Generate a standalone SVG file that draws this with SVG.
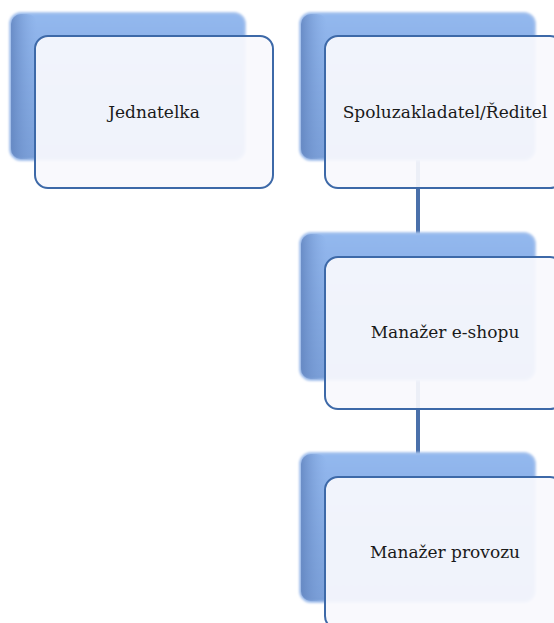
<svg xmlns="http://www.w3.org/2000/svg" width="554" height="623" viewBox="0 0 554 623">
<defs>
<linearGradient id="gb" x1="0" y1="0" x2="0" y2="1">
<stop offset="0" stop-color="#93b8ee"/>
<stop offset="1" stop-color="#7a9fd8"/>
</linearGradient>
<linearGradient id="gl" x1="0" y1="0" x2="1" y2="0">
<stop offset="0" stop-color="#5f82bd"/>
<stop offset="1" stop-color="#7fa3dc" stop-opacity="0"/>
</linearGradient>
<filter id="glow" x="-10%" y="-10%" width="120%" height="120%">
<feGaussianBlur stdDeviation="1.2"/>
</filter>
<style>
.back{fill:url(#gb);stroke:#a9c4ee;stroke-width:2}
.bevel{fill:url(#gl);opacity:0.8}
.front{fill:#f9f9fd;fill-opacity:0.93;stroke:#3d69a8;stroke-width:2}
.lbl{font-family:"DejaVu Serif","Liberation Serif",serif;font-size:17px;fill:#1a1a1a;text-anchor:middle}
.conn{stroke:#4a70aa;stroke-width:4;fill:none}
</style>
</defs>
<g id="connectors">
<line class="conn" x1="418" y1="160" x2="418" y2="234"/>
<line class="conn" x1="418" y1="380" x2="418" y2="454"/>
</g>
<g id="node-jednatelka">
<rect class="back" x="10" y="13" width="235" height="147" rx="11" filter="url(#glow)"/>
<rect class="bevel" x="11" y="14" width="26" height="145" rx="10"/>
<rect class="front" x="35" y="36" width="238" height="152" rx="13"/>
<text class="lbl" x="154" y="118">Jednatelka</text>
</g>
<g id="node-reditel">
<rect class="back" x="300" y="13" width="235" height="147" rx="11" filter="url(#glow)"/>
<rect class="bevel" x="301" y="14" width="26" height="145" rx="10"/>
<rect class="front" x="325" y="36" width="238" height="152" rx="13"/>
<text class="lbl" x="445" y="118">Spoluzakladatel/Ředitel</text>
</g>
<g id="node-eshop">
<rect class="back" x="300" y="233" width="235" height="147" rx="11" filter="url(#glow)"/>
<rect class="bevel" x="301" y="234" width="26" height="145" rx="10"/>
<rect class="front" x="325" y="257" width="238" height="152" rx="13"/>
<text class="lbl" x="445" y="338">Manažer e-shopu</text>
</g>
<g id="node-provoz">
<rect class="back" x="300" y="453" width="235" height="149" rx="11" filter="url(#glow)"/>
<rect class="bevel" x="301" y="454" width="26" height="147" rx="10"/>
<rect class="front" x="325" y="477" width="238" height="152" rx="13"/>
<text class="lbl" x="445" y="558">Manažer provozu</text>
</g>
</svg>
